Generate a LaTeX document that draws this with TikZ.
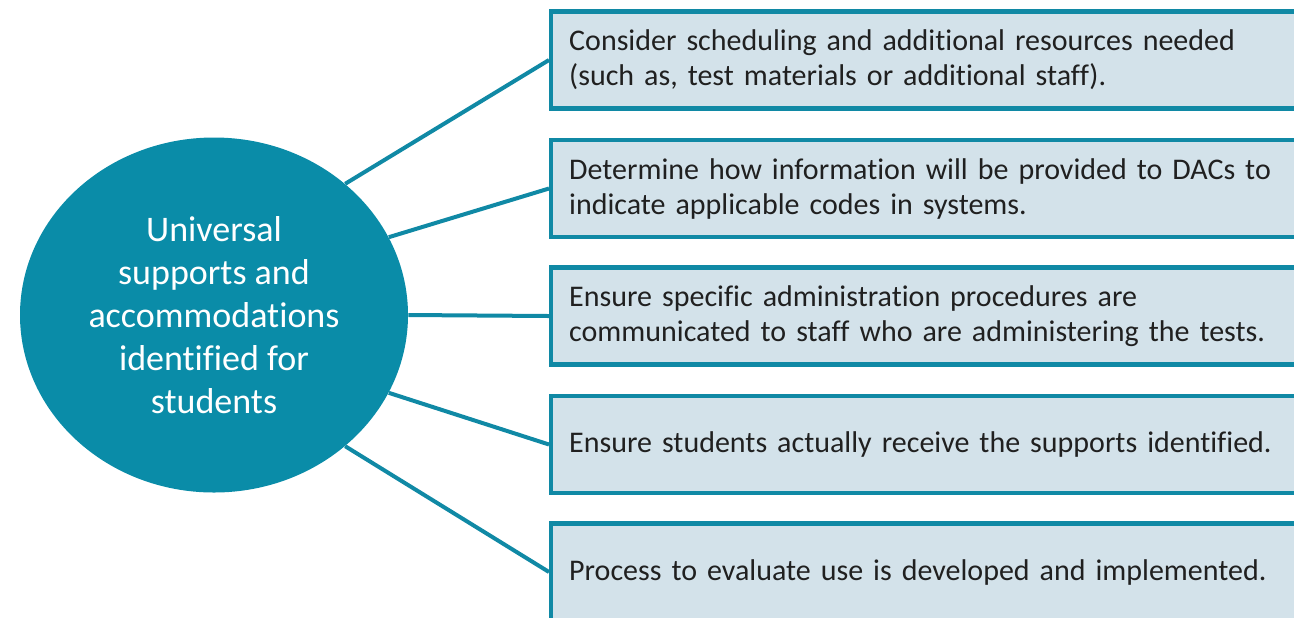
\documentclass[tikz,border=0pt]{standalone}
\usepackage{fontspec}
\setmainfont{Carlito}[Ligatures=NoCommon]
\usetikzlibrary{positioning}
\usetikzlibrary{shapes.geometric}
\definecolor{hubteal}{HTML}{0A8CA8}
\definecolor{edgeteal}{HTML}{1089A5}
\definecolor{boxfill}{HTML}{D3E2EA}
\definecolor{boxtext}{HTML}{202020}

\begin{document}
\begin{tikzpicture}[x=0.5pt,y=-0.5pt]
    \tikzstyle{hub}=[ellipse, fill=hubteal, text=white, inner sep=0pt,
            minimum width=194pt, minimum height=177.5pt, align=center,
            font=\fontsize{18}{21.5}\selectfont]
    \tikzstyle{task}=[rectangle, draw=edgeteal, fill=boxfill, line width=2.2pt,
            anchor=west, minimum height=48.5pt, text width=370pt,
            inner xsep=9pt, align=left, text=boxtext,
            font=\fontsize{15}{17.5}\selectfont]
    \tikzstyle{spoke}=[edgeteal, line width=2pt]

        \path[use as bounding box, clip] (0,0) rectangle (1294,617);

        \node[hub] (hub) at (214,315)
        {Universal\\supports and\\accommodations\\identified for\\students};

        \node[task] (t1) at (549,60)
        {Consider scheduling and additional resources needed\\
        (such as, test materials or additional staff).};
        \node[task] (t2) at (549,188.5)
        {Determine how information will be provided to DACs to\\
        indicate applicable codes in systems.};
        \node[task] (t3) at (549,316)
        {Ensure specific administration procedures are\\
        communicated to staff who are administering the tests.};
        \node[task] (t4) at (549,444.5)
        {Ensure students actually receive the supports identified.};
        \node[task] (t5) at (549,572)
        {Process to evaluate use is developed and implemented.};

        \foreach \t/\a in {1/45, 2/24, 3/0, 4/-24, 5/-45}
        {
            \draw[spoke] (hub.\a) -- (t\t.west);
        }

    \end{tikzpicture}
\end{document}
